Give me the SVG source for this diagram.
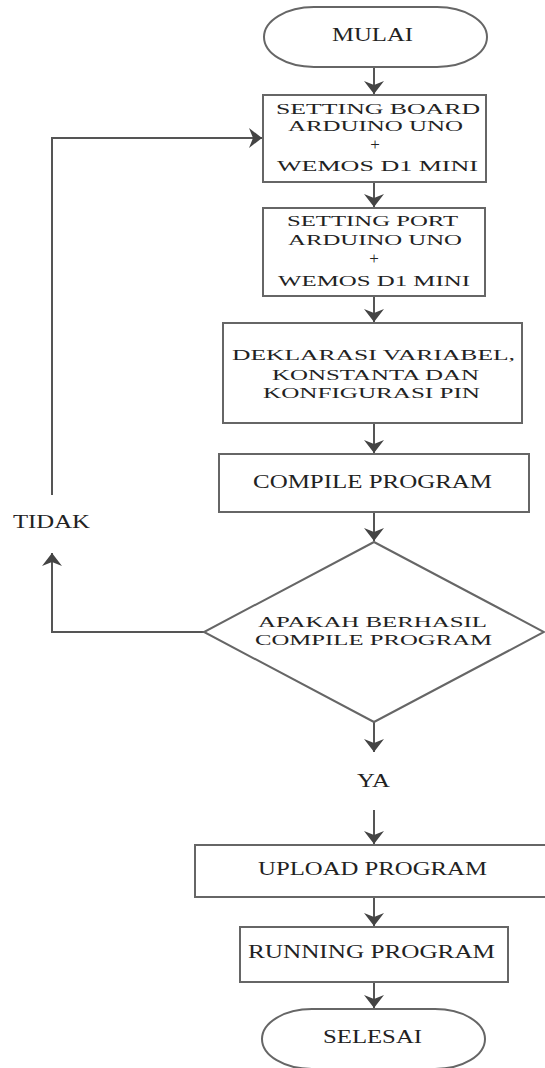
<svg xmlns="http://www.w3.org/2000/svg" width="545" height="1068" viewBox="0 0 545 1068">
<style>
.box{fill:#fff;stroke:#666;stroke-width:2}
.ln{fill:none;stroke:#555;stroke-width:2}
text{font-family:"Liberation Serif","Times New Roman",serif;font-size:18px;fill:#222}
text.sm{font-size:15px}
text.plus{font-size:17px}
</style>
<defs>
<marker id="ah" markerUnits="userSpaceOnUse" markerWidth="14" markerHeight="20" refX="13" refY="10" orient="auto">
<path d="M0,0 L13,10 L0,20 L4,10 z" fill="#444"/>
</marker>
</defs>
<rect width="545" height="1068" fill="#fff"/>
<g id="connectors">
<line class="ln" x1="374" y1="67" x2="374" y2="94" marker-end="url(#ah)"/>
<line class="ln" x1="374" y1="182" x2="374" y2="207" marker-end="url(#ah)"/>
<line class="ln" x1="374" y1="296" x2="374" y2="322" marker-end="url(#ah)"/>
<line class="ln" x1="374" y1="423" x2="374" y2="453" marker-end="url(#ah)"/>
<line class="ln" x1="374" y1="512" x2="374" y2="541" marker-end="url(#ah)"/>
<line class="ln" x1="374" y1="722" x2="374" y2="752" marker-end="url(#ah)"/>
<line class="ln" x1="374" y1="810" x2="374" y2="844" marker-end="url(#ah)"/>
<line class="ln" x1="374" y1="897" x2="374" y2="926" marker-end="url(#ah)"/>
<line class="ln" x1="374" y1="982" x2="374" y2="1008" marker-end="url(#ah)"/>
<polyline class="ln" points="204,632 52,632 52,553" marker-end="url(#ah)"/>
<polyline class="ln" points="52,495 52,138 262,138" marker-end="url(#ah)"/>
<text x="13" y="528" textLength="77" lengthAdjust="spacingAndGlyphs">TIDAK</text>
<text x="357" y="787" textLength="33" lengthAdjust="spacingAndGlyphs">YA</text>
</g>
<g id="mulai">
<rect class="box" x="264" y="7" width="223" height="60" rx="50" ry="30"/>
<text x="332" y="41" textLength="81" lengthAdjust="spacingAndGlyphs">MULAI</text>
</g>
<g id="setting-board">
<rect class="box" x="263" y="95" width="223" height="87"/>
<text class="sm" x="276" y="114" textLength="204" lengthAdjust="spacingAndGlyphs">SETTING BOARD</text>
<text class="sm" x="288" y="131" textLength="175" lengthAdjust="spacingAndGlyphs">ARDUINO UNO</text>
<text class="plus" x="375" y="150" text-anchor="middle">+</text>
<text class="sm" x="277" y="171" textLength="201" lengthAdjust="spacingAndGlyphs">WEMOS D1 MINI</text>
</g>
<g id="setting-port">
<rect class="box" x="263" y="208" width="222" height="88"/>
<text class="sm" x="287" y="226" textLength="171" lengthAdjust="spacingAndGlyphs">SETTING PORT</text>
<text class="sm" x="288" y="245" textLength="174" lengthAdjust="spacingAndGlyphs">ARDUINO UNO</text>
<text class="plus" x="374" y="264" text-anchor="middle">+</text>
<text class="sm" x="278" y="286" textLength="192" lengthAdjust="spacingAndGlyphs">WEMOS D1 MINI</text>
</g>
<g id="deklarasi">
<rect class="box" x="223" y="323" width="299" height="100"/>
<text class="sm" x="232" y="360" textLength="283" lengthAdjust="spacingAndGlyphs">DEKLARASI VARIABEL,</text>
<text class="sm" x="272" y="380" textLength="207" lengthAdjust="spacingAndGlyphs">KONSTANTA DAN</text>
<text class="sm" x="263" y="398" textLength="217" lengthAdjust="spacingAndGlyphs">KONFIGURASI PIN</text>
</g>
<g id="compile">
<rect class="box" x="219" y="454" width="310" height="58"/>
<text x="253" y="488" textLength="239" lengthAdjust="spacingAndGlyphs">COMPILE PROGRAM</text>
</g>
<g id="decision">
<polygon class="box" points="374,542 544,632 374,722 204,632"/>
<text class="sm" x="258" y="627" textLength="229" lengthAdjust="spacingAndGlyphs">APAKAH BERHASIL</text>
<text class="sm" x="255" y="645" textLength="237" lengthAdjust="spacingAndGlyphs">COMPILE PROGRAM</text>
</g>
<g id="upload">
<rect class="box" x="195" y="845" width="360" height="52"/>
<text x="258" y="875" textLength="229" lengthAdjust="spacingAndGlyphs">UPLOAD PROGRAM</text>
</g>
<g id="running">
<rect class="box" x="240" y="927" width="268" height="55"/>
<text x="248" y="958" textLength="247" lengthAdjust="spacingAndGlyphs">RUNNING PROGRAM</text>
</g>
<g id="selesai">
<rect class="box" x="262" y="1009" width="223" height="60" rx="50" ry="30"/>
<text x="323" y="1043" textLength="99" lengthAdjust="spacingAndGlyphs">SELESAI</text>
</g>
</svg>
